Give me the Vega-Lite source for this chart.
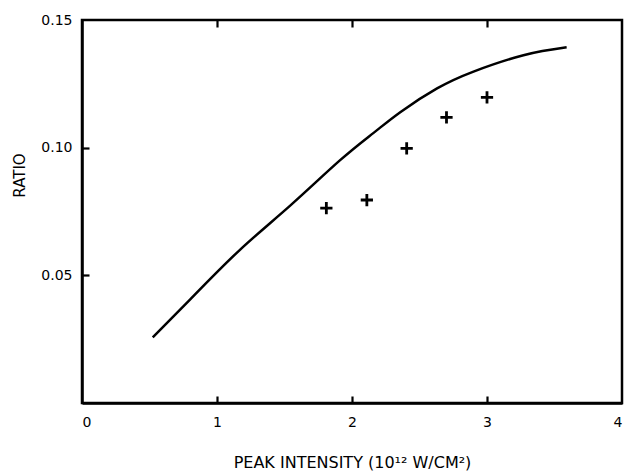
{
  "$schema": "https://vega.github.io/schema/vega-lite/v6.json",
  "autosize": "none",
  "width": 540,
  "height": 383,
  "padding": {"left": 82, "top": 20, "right": 6, "bottom": 72},
  "background": "white",
  "config": {
    "view": {"stroke": "black", "strokeWidth": 2.5},
    "axis": {
      "labelFont": "DejaVu Sans",
      "titleFont": "DejaVu Sans",
      "labelFontSize": 14,
      "labelColor": "black",
      "titleColor": "black",
      "titleFontWeight": "normal",
      "domainColor": "black",
      "domainWidth": 2.5,
      "tickColor": "black",
      "tickWidth": 2.2,
      "grid": false
    }
  },
  "datasets": {
    "curve": [
      {"x": 0.524, "y": 0.0257},
      {"x": 0.80, "y": 0.0405},
      {"x": 1.17, "y": 0.0600},
      {"x": 1.54, "y": 0.0772},
      {"x": 1.91, "y": 0.0950},
      {"x": 2.16, "y": 0.1058},
      {"x": 2.36, "y": 0.1140},
      {"x": 2.63, "y": 0.1232},
      {"x": 2.90, "y": 0.1298},
      {"x": 3.27, "y": 0.1362},
      {"x": 3.59, "y": 0.1393}
    ],
    "points": [
      {"x": 1.81, "y": 0.0763},
      {"x": 2.11, "y": 0.0795},
      {"x": 2.405, "y": 0.0997},
      {"x": 2.70, "y": 0.1119},
      {"x": 3.0, "y": 0.1197}
    ]
  },
  "layer": [
    {
      "data": {"name": "curve"},
      "mark": {"type": "line", "color": "black", "strokeWidth": 2.5, "interpolate": "natural"},
      "encoding": {
        "x": {
          "field": "x", "type": "quantitative",
          "scale": {"domain": [0, 4], "nice": false},
          "axis": {
            "values": [0, 1, 2, 3, 4],
            "format": "d",
            "ticks": false,
            "labelPadding": 12,
            "title": "PEAK INTENSITY (10¹² W/CM²)",
            "titleFontSize": 16,
            "titlePadding": 25
          }
        },
        "y": {
          "field": "y", "type": "quantitative",
          "scale": {"domain": [0, 0.15], "nice": false, "zero": false},
          "axis": {
            "values": [0.05, 0.10, 0.15],
            "format": ".2f",
            "ticks": false,
            "labelPadding": 10,
            "title": "RATIO",
            "titleFontSize": 15,
            "titleAngle": 270,
            "titleX": -63,
            "titleY": 155,
            "titleAlign": "center",
            "titleBaseline": "middle"
          }
        }
      }
    },
    {
      "data": {"name": "points"},
      "mark": {"type": "point", "shape": "M-1,0H1M0,-1V1", "filled": false, "stroke": "black", "strokeWidth": 2.8, "size": 150, "opacity": 1},
      "encoding": {
        "x": {
          "field": "x", "type": "quantitative",
          "axis": {
            "orient": "top",
            "offset": -383,
            "values": [1, 2, 3],
            "labels": false,
            "domain": false,
            "ticks": true,
            "tickSize": 7,
            "title": null
          }
        },
        "y": {
          "field": "y", "type": "quantitative",
          "axis": {
            "orient": "right",
            "offset": -540,
            "values": [0.05, 0.10],
            "labels": false,
            "domain": false,
            "ticks": true,
            "tickSize": 7,
            "title": null
          }
        }
      }
    },
    {
      "data": {"name": "points"},
      "mark": {"type": "point", "opacity": 0},
      "encoding": {
        "x": {
          "field": "x", "type": "quantitative",
          "axis": {
            "orient": "bottom",
            "offset": -383,
            "values": [1, 2, 3],
            "labels": false,
            "domain": false,
            "ticks": true,
            "tickSize": 7,
            "title": null
          }
        },
        "y": {"field": "y", "type": "quantitative", "axis": null}
      }
    }
  ],
  "resolve": {"axis": {"x": "independent", "y": "independent"}}
}
